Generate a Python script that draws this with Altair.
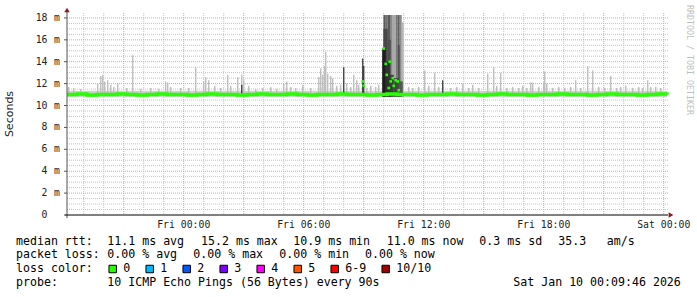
import altair as alt
import pandas as pd

# ---------------- data (hours relative to Fri 00:00, values in ms) ----------------
t_start = -5.837
t_end = 24.163

spike_h = [-5.75, -5.5, -5.15, -4.3, -4.15, -4.05, -3.95, -3.8, -3.65, -3.5, -3.3, -2.85,
           -2.55, -2.15, -1.65, -1.25, -0.9, -0.8, -0.65, -0.15, 0.25, 0.6, 1.0, 1.1, 1.25,
           1.55, 1.85, 2.2, 2.35, 2.7, 2.9, 3.0, 3.25, 3.6, 3.95, 4.35, 4.65, 5.0, 5.15, 5.35,
           5.6, 5.95, 6.35, 6.75, 6.85, 6.95, 7.05, 7.1, 7.2, 7.35, 7.45, 7.65, 7.85, 8.15,
           8.35, 8.5, 8.65, 8.75, 9.15, 9.35, 9.6, 9.75, 11.25, 11.45, 11.75, 12.05, 12.25,
           12.55, 12.75, 13.35, 13.65, 13.95, 14.25, 14.45, 14.75, 15.2, 15.5, 15.65, 15.85,
           16.15, 16.45, 16.75, 16.95, 17.15, 17.35, 17.45, 17.75, 18.0, 18.05, 18.15, 18.45,
           18.75, 19.05, 19.35, 19.6, 19.85, 20.2, 20.45, 20.75, 21.05, 21.35, 21.65, 21.85,
           22.1, 22.45, 22.75, 22.95, 23.2, 23.35, 23.6, 23.85]
spike_top = [11.7, 11.6, 11.5, 12.0, 12.7, 12.8, 12.2, 12.3, 11.9, 11.7, 12.0, 11.6,
             14.6, 11.5, 11.6, 11.5, 12.2, 12.1, 11.7, 11.6, 11.6, 13.5, 12.2, 12.6, 12.3,
             11.8, 11.6, 12.8, 11.8, 12.6, 12.8, 12.3, 11.8, 11.5, 11.6, 11.7, 11.5, 12.0, 12.2, 11.7,
             11.6, 11.9, 11.6, 12.6, 13.4, 12.8, 13.6, 14.9, 12.9, 12.7, 12.5, 11.8, 11.9, 12.0,
             11.7, 12.8, 12.3, 11.9, 11.6, 11.8, 11.7, 11.9, 11.7, 11.6, 11.7, 13.2, 11.8,
             13.0, 11.7, 11.6, 11.7, 12.0, 11.6, 11.9, 11.6, 12.9, 13.5, 11.8, 13.0,
             11.6, 11.7, 11.6, 11.8, 11.6, 12.1, 12.1, 11.7, 12.1, 13.1, 12.0, 11.6,
             11.7, 11.6, 11.7, 12.3, 11.6, 13.6, 13.2, 11.7, 11.6, 12.7, 11.6, 11.7,
             11.8, 11.6, 11.7, 11.6, 12.3, 11.7, 11.7, 11.6]

dark_h = [2.9, 8.0, 8.95, 9.0, 12.95]
dark_top = [11.9, 13.5, 14.3, 13.6, 12.3]

# burst of heavy smoke (outer layer reaches the top of the graph)
burst_h0 = [9.985, 10.1, 10.2, 10.35, 10.45, 10.6, 10.7, 10.8, 10.9]
burst_h1 = [10.1, 10.2, 10.35, 10.45, 10.6, 10.7, 10.8, 10.9, 11.0]
burst_top = [18.27, 18.27, 18.27, 18.27, 18.27, 18.27, 18.27, 18.27, 17.6]

mid_h0 = [9.985, 10.2, 10.7]
mid_h1 = [10.2, 10.35, 10.8]
mid_top = [17.0, 16.0, 15.5]

core_h0 = [9.92, 10.1, 10.3, 10.5, 10.75]
core_h1 = [10.1, 10.3, 10.5, 10.75, 10.95]
core_top = [15.2, 14.0, 12.8, 12.5, 12.2]

median_val = [11.0, 11.05, 10.95, 11.0, 11.0, 11.05, 11.0, 10.95, 11.0, 11.05,
              11.0, 11.0, 10.95, 11.0, 11.05, 11.0, 11.0, 10.95, 11.0, 11.05,
              11.0, 11.0, 11.05, 11.0, 10.95, 11.0, 11.0, 11.05, 11.0, 11.0,
              10.95, 11.0, 11.05, 11.0, 11.0, 10.95, 11.0, 11.0, 11.05, 11.0,
              11.0, 10.95, 11.0, 11.05, 11.0, 11.0, 10.95, 11.0, 11.0, 11.05,
              11.0, 11.0, 10.95, 11.0, 11.05, 11.0, 11.0, 10.95, 11.0, 11.05, 11.0]
median_h = [t_start + 0.5 * i for i in range(len(median_val))]

dot_h = [8.95, 9.0, 10.0, 10.1, 10.15, 10.25, 10.3, 10.35, 10.45, 10.5, 10.6, 10.7, 10.75]
dot_val = [12.2, 11.8, 15.2, 13.8, 12.8, 11.6, 14.0, 12.2, 12.5, 11.8, 12.3, 12.2, 11.4]

x_tick_h = [0, 6, 12, 18, 24]
x_tick_lbl = ["Fri 00:00", "Fri 06:00", "Fri 12:00", "Fri 18:00", "Sat 00:00"]
y_tick_val = [0, 2, 4, 6, 8, 10, 12, 14, 16, 18]

loss_lbl = ["0", "1", "2", "3", "4", "5", "6-9", "10/10"]
loss_col = ["#26ff00", "#00b8ff", "#0059ff", "#7e00ff", "#ff00ff", "#ff5500", "#ff0000", "#a10000"]

legend_rows = [
    ["median rtt:", "11.1 ms avg", "15.2 ms max", "10.9 ms min", "11.0 ms now", "0.3 ms sd", "35.3", "am/s"],
    ["packet loss:", "0.00 % avg", "0.00 % max", "0.00 % min", "0.00 % now"],
    ["loss color:"],
    ["probe:", "10 ICMP Echo Pings (56 Bytes) every 90s", "Sat Jan 10 00:09:46 2026"],
]

# ---------------- styles / layout ----------------
W, H = 600, 202
Y_MAX = 18.45
MONO = "DejaVu Sans Mono"
burst_shade = ["#5c5c5c", "#6e6e6e", "#5a5a5a", "#8a8a8a", "#a8a8a8", "#777777", "#5e5e5e", "#8c8c8c", "#b8b8b8"]
mid_shade = ["#484848", "#4e4e4e", "#505050"]
core_shade = ["#1e1e1e", "#303030", "#3a3a3a", "#444444", "#555555"]
row_x = [  # left edges (pixels, relative to the plot's left edge) of the legend segments
    [-51, 40.3, 134, 226.3, 319.7, 412.3, 491.3, 539.7],
    [-51, 40.3, 126.3, 212.3, 298],
    [-51],
    [-51, 40.3, 446.3],
]
row_y = [228.7, 242.0, 256.0, 270.0]

xs = alt.Scale(domain=[t_start, t_end], nice=False, zero=False)
ys = alt.Scale(domain=[0, Y_MAX], nice=False, zero=False)

def X(f):
    return alt.X(f, type="quantitative", scale=xs, axis=None)

def Y(f):
    return alt.Y(f, type="quantitative", scale=ys, axis=None)

# grid
minor_v = pd.DataFrame({"h": [h for h in range(-5, 25) if h % 3 != 0]})
major_v = pd.DataFrame({"h": [h for h in range(-3, 25) if h % 3 == 0]})
minor_hz = pd.DataFrame({"v": [0.5 * i for i in range(1, 37) if i % 4 != 0]})
major_hz = pd.DataFrame({"v": [float(v) for v in y_tick_val if v > 0]})

g1 = alt.Chart(minor_v).mark_rule(color="#c4c4c4", strokeDash=[1, 1], strokeWidth=1).encode(
    x=X("h"), y=alt.value(0), y2=alt.value(H))
g2 = alt.Chart(minor_hz).mark_rule(color="#c4c4c4", strokeDash=[1, 1], strokeWidth=1).encode(
    y=Y("v"), x=alt.value(0), x2=alt.value(W + 1))
g3 = alt.Chart(major_v).mark_rule(color="#eb9a9a", strokeDash=[1, 1], strokeWidth=1).encode(
    x=X("h"), y=alt.value(0), y2=alt.value(H))
g4 = alt.Chart(major_hz).mark_rule(color="#eb9a9a", strokeDash=[1, 1], strokeWidth=1).encode(
    y=Y("v"), x=alt.value(0), x2=alt.value(W + 1))

# smoke
band = alt.Chart(pd.DataFrame({"h0": [t_start], "h1": [t_end], "lo": [10.75], "hi": [11.35]})).mark_rect(
    color="#cfcfcf").encode(x=X("h0"), x2="h1", y=Y("lo"), y2="hi")
spk = alt.Chart(pd.DataFrame({"h": spike_h, "top": spike_top, "base": [11.0] * len(spike_h)})).mark_rule(
    color="#bababa", strokeWidth=1.3).encode(x=X("h"), y=Y("base"), y2="top")
dspk = alt.Chart(pd.DataFrame({"h": dark_h, "top": dark_top, "base": [11.0] * len(dark_h)})).mark_rule(
    color="#3a3a3a", strokeWidth=1.3).encode(x=X("h"), y=Y("base"), y2="top")

def rects(h0, h1, top, shade):
    df = pd.DataFrame({"h0": h0, "h1": h1, "top": top, "base": [10.8] * len(h0), "c": shade})
    return alt.Chart(df).mark_rect().encode(
        x=X("h0"), x2="h1", y=Y("base"), y2="top", color=alt.Color("c:N", scale=None))

burst = rects(burst_h0, burst_h1, burst_top, burst_shade)
mid = rects(mid_h0, mid_h1, mid_top, mid_shade)
core = rects(core_h0, core_h1, core_top, core_shade)

med = alt.Chart(pd.DataFrame({"h": median_h, "v": median_val})).mark_line(
    color="#26ff00", strokeWidth=3.5, interpolate="step-after").encode(x=X("h"), y=Y("v"))
dots = alt.Chart(pd.DataFrame({"h": dot_h, "v": dot_val})).mark_square(
    color="#26ff00", size=7, opacity=1).encode(x=X("h"), y=Y("v"))

# axes
dummy = pd.DataFrame({"a": [0]})
yaxis = alt.Chart(dummy).mark_rule(color="#555555", strokeWidth=1).encode(
    x=alt.value(0), y=alt.value(-3), y2=alt.value(H + 3))
xaxis = alt.Chart(dummy).mark_rule(color="#000000", strokeWidth=1).encode(
    y=alt.value(H), x=alt.value(-2), x2=alt.value(W + 1))
up_arrow = alt.Chart(dummy).mark_point(shape="triangle-up", filled=True, color="#8b1a1a", size=30, opacity=1).encode(
    x=alt.value(0), y=alt.value(-3))
right_arrow = alt.Chart(dummy).mark_point(shape="triangle-right", filled=True, color="#8b1a1a", size=30, opacity=1).encode(
    x=alt.value(W + 4), y=alt.value(H))
yticks = alt.Chart(pd.DataFrame({"v": [float(v) for v in y_tick_val]})).mark_rule(color="#555555").encode(
    y=Y("v"), x=alt.value(-3), x2=alt.value(0))

ylab_df = pd.DataFrame({"v": [float(v) for v in y_tick_val], "t": [str(v) for v in y_tick_val]})
ylab = alt.Chart(ylab_df).mark_text(font=MONO, fontSize=9.8, align="right", baseline="middle", color="#222").encode(
    y=Y("v"), x=alt.value(-19.5), text="t:N")
ym = alt.Chart(ylab_df[ylab_df.v > 0]).mark_text(font=MONO, fontSize=9.8, align="right", baseline="middle", color="#222").encode(
    y=Y("v"), x=alt.value(-7), text=alt.value("m"))
xlab = alt.Chart(pd.DataFrame({"h": x_tick_h, "t": x_tick_lbl})).mark_text(
    font=MONO, fontSize=9.8, align="center", baseline="middle", color="#222").encode(
    x=X("h"), y=alt.value(H + 9.5), text="t:N")

ytitle = alt.Chart(dummy).mark_text(font="DejaVu Sans", fontSize=11, angle=270, align="center",
                                    baseline="middle", color="#222").encode(
    x=alt.value(-57), y=alt.value(101), text=alt.value("Seconds"))
credit = alt.Chart(dummy).mark_text(font=MONO, fontSize=8.3, angle=90, align="center",
                                    baseline="middle", color="#c0c0c0").encode(
    x=alt.value(621.5), y=alt.value(47), text=alt.value("RRDTOOL / TOBI OETIKER"))

# bottom legend text
NB = "\u00a0"
seg_t, seg_x, seg_y = [], [], []
for r, row in enumerate(legend_rows):
    for c, s in enumerate(row):
        seg_t.append(s.replace(" ", NB))
        seg_x.append(row_x[r][c])
        seg_y.append(row_y[r])
lines = alt.Chart(pd.DataFrame({"t": seg_t, "px": seg_x, "py": seg_y})).mark_text(
    font=MONO, fontSize=11.6, align="left", baseline="middle", color="#000").encode(
    x=alt.X("px:Q", scale=None, axis=None), y=alt.Y("py:Q", scale=None, axis=None), text="t:N")

box_px = [45.7 + 37 * i for i in range(7)] + [318.7]
lab_px = [56.3 + 37 * i for i in range(7)] + [329.3]
leg_df = pd.DataFrame({"px": box_px, "lx": lab_px, "c": loss_col, "t": loss_lbl})
boxes = alt.Chart(leg_df).mark_square(size=56, filled=True, opacity=1, stroke="black", strokeWidth=1).encode(
    x=alt.X("px:Q", scale=None, axis=None), y=alt.value(256), color=alt.Color("c:N", scale=None))
blabels = alt.Chart(leg_df).mark_text(font=MONO, fontSize=11.6, align="left", baseline="middle", color="#000").encode(
    x=alt.X("lx:Q", scale=None, axis=None), y=alt.value(256), text="t:N")

chart = alt.layer(
    g1, g2, g3, g4, band, spk, dspk, burst, mid, core, med, dots,
    yaxis, xaxis, yticks, up_arrow, right_arrow, ylab, ym, xlab, ytitle, credit,
    lines, boxes, blabels
).properties(
    width=W, height=H,
    autosize=alt.AutoSizeParams(type="none"),
    padding={"left": 67, "top": 13, "right": 30, "bottom": 82},
    background="white",
).configure_view(stroke=None)

chart.save("out.html", embed_options={"renderer": "svg", "actions": False})
